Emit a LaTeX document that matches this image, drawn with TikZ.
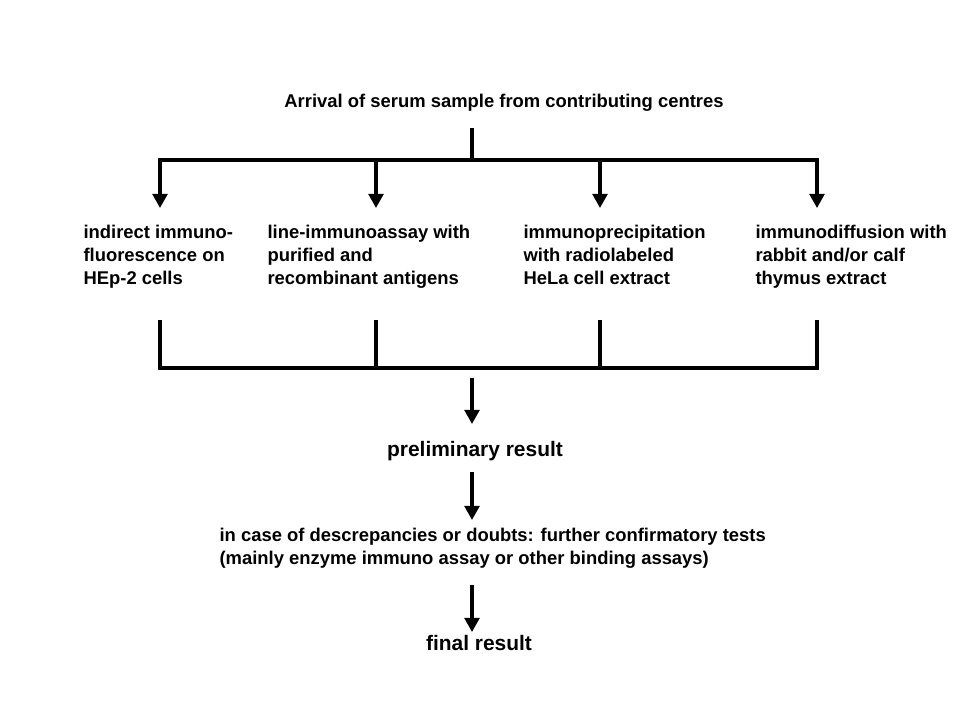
\documentclass[tikz,border=0pt]{standalone}
\usepackage{fontspec}
\setmainfont{Liberation Sans}
\usetikzlibrary{arrows.meta}

\begin{document}
\begin{tikzpicture}[x=0.025cm, y=-0.025cm, line width=2.2pt,
        arr/.style={-{Triangle[width=10.5pt,length=10pt]}},
        lbl/.style={font=\bfseries\fontsize{13.1}{16.2}\selectfont, inner sep=0pt},
        res/.style={font=\bfseries\fontsize{14.9}{18}\selectfont, inner sep=0pt},
        blk/.style={lbl, anchor=north west, align=left}]
        \useasboundingbox (0,0) rectangle (960,720);
        % source of the samples
        \node[lbl] (arrival) at (504,103) {Arrival of serum sample from contributing centres};
        \coordinate (stem) at (472,128);
        \coordinate (split) at (472,160);
        \draw (stem) -- (split);
        \draw[line cap=rect] (160,160) -- (817,160);
        % the four assays
        \node[blk] (assay1) at (82,224) {indirect immuno-\\fluorescence on\\HEp-2 cells};
        \node[blk] (assay2) at (266,224) {line-immunoassay with\\purified and\\recombinant antigens};
        \node[blk] (assay3) at (522,224) {immunoprecipitation\\with radiolabeled\\HeLa cell extract};
        \node[blk] (assay4) at (754,224) {immunodiffusion with\\rabbit and/or calf\\thymus extract};
        \foreach \x/\n in {160/1,376/2,600/3,817/4} {
            \coordinate (top\n) at (\x,160);
            \coordinate (tip\n) at (\x,208);
            \draw[arr] (top\n) -- (tip\n);
            \coordinate (up\n) at (\x,320);
            \coordinate (low\n) at (\x,368);
            \draw (up\n) -- (low\n);
        }
        \draw[line cap=rect] (low1) -- (low4);
        % results
        \node[res] (prelim) at (475,451) {preliminary result};
        \node[lbl, anchor=west, align=left] (confirm) at (218,548) {in case of descrepancies or doubts: further confirmatory tests\\(mainly enzyme immuno assay or other binding assays)};
        \node[res] (final) at (479,643) {final result};
        \coordinate (join) at (472,378);
        \coordinate (p1) at (472,424);
        \coordinate (p2) at (472,472);
        \coordinate (p3) at (472,520);
        \coordinate (p4) at (472,585);
        \coordinate (p5) at (472,632);
        \draw[arr] (join) -- (p1);
        \draw[arr] (p2) -- (p3);
        \draw[arr] (p4) -- (p5);
    \end{tikzpicture}
\end{document}
